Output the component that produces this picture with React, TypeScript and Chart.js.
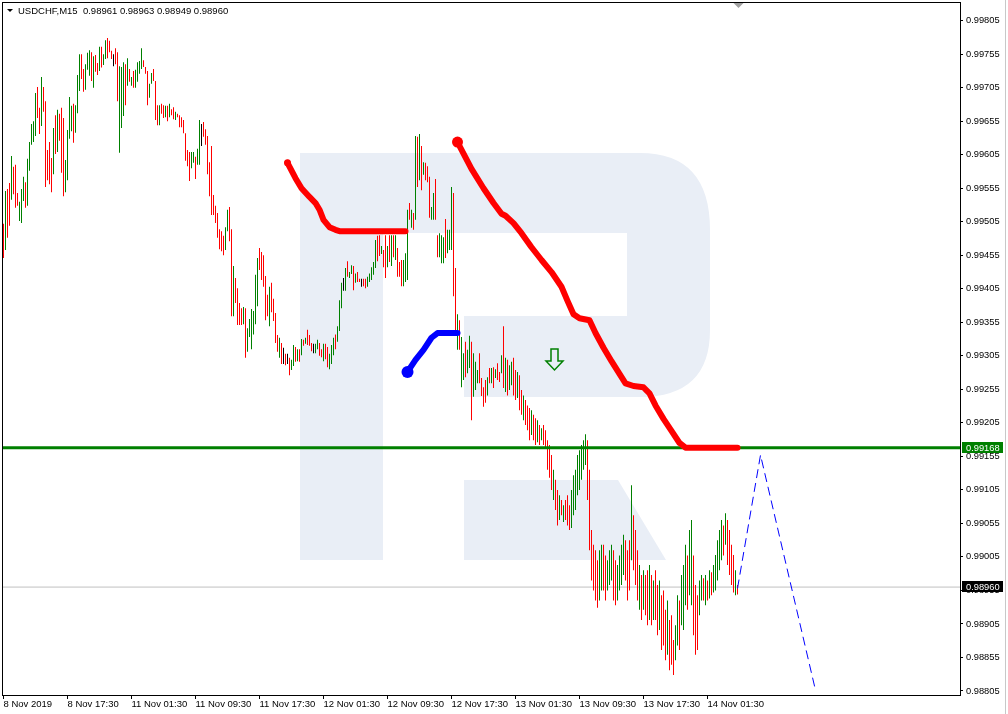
import React, { useEffect, useRef } from "react";
import { Chart, registerables } from "chart.js";

Chart.register(...registerables);

// ---------- data ----------
const SYMBOL = "USDCHF";
const TIMEFRAME = "M15";
const LAST_OHLC = [0.98961, 0.98963, 0.98949, 0.9896];

const TIME_TICK_INDEX = [0, 32, 64, 96, 128, 160, 192, 224, 256, 288, 320, 352];
const TIME_TICK_LABELS = [
  "8 Nov 2019", "8 Nov 17:30", "11 Nov 01:30", "11 Nov 09:30", "11 Nov 17:30", "12 Nov 01:30",
  "12 Nov 09:30", "12 Nov 17:30", "13 Nov 01:30", "13 Nov 09:30", "13 Nov 17:30", "14 Nov 01:30",
];

const PRICE_TICKS = [
  0.98805, 0.98855, 0.98905, 0.98955, 0.99005, 0.99055, 0.99105, 0.99155, 0.99205, 0.99255, 0.99305,
  0.99355, 0.99405, 0.99455, 0.99505, 0.99555, 0.99605, 0.99655, 0.99705, 0.99755, 0.99805,
];
const PRICE_MIN = 0.98799;
const PRICE_MAX = 0.998314;

// bar highs / lows in points (1 point = 0.00001)
const HIGH_PTS = [
  99502, 99551, 99554, 99563, 99603, 99587, 99590, 99548, 99535, 99554,
  99572, 99564, 99599, 99624, 99651, 99655, 99697, 99706, 99675, 99721,
  99706, 99685, 99612, 99624, 99600, 99645, 99664, 99672, 99666, 99675,
  99660, 99597, 99642, 99691, 99678, 99681, 99679, 99724, 99755, 99755,
  99733, 99740, 99757, 99761, 99758, 99752, 99754, 99742, 99766, 99766,
  99755, 99776, 99779, 99775, 99760, 99755, 99764, 99758, 99737, 99736,
  99743, 99740, 99749, 99733, 99721, 99730, 99732, 99743, 99745, 99764,
  99746, 99736, 99730, 99711, 99727, 99733, 99715, 99679, 99679, 99681,
  99679, 99678, 99678, 99681, 99673, 99676, 99669, 99666, 99664, 99661,
  99657, 99637, 99612, 99609, 99609, 99609, 99602, 99614, 99657, 99651,
  99654, 99643, 99633, 99594, 99618, 99545, 99529, 99518, 99494, 99491,
  99484, 99497, 99523, 99527, 99494, 99439, 99421, 99406, 99384, 99376,
  99378, 99376, 99346, 99360, 99375, 99372, 99426, 99451, 99466, 99460,
  99455, 99424, 99396, 99408, 99414, 99390, 99369, 99336, 99332, 99324,
  99317, 99308, 99308, 99302, 99299, 99321, 99318, 99315, 99315, 99330,
  99329, 99332, 99344, 99336, 99324, 99323, 99323, 99329, 99324, 99315,
  99323, 99323, 99318, 99308, 99321, 99332, 99337, 99349, 99388, 99414,
  99421, 99436, 99446, 99430, 99440, 99439, 99428, 99430, 99420, 99420,
  99420, 99420, 99423, 99428, 99437, 99445, 99478, 99484, 99485, 99469,
  99463, 99485, 99469, 99485, 99485, 99485, 99485, 99466, 99445, 99448,
  99448, 99458, 99523, 99533, 99523, 99518, 99633, 99632, 99636, 99618,
  99594, 99593, 99588, 99572, 99527, 99548, 99569, 99485, 99488, 99485,
  99482, 99509, 99493, 99493, 99557, 99548, 99436, 99367, 99358, 99333,
  99309, 99326, 99314, 99335, 99326, 99309, 99296, 99284, 99309, 99272,
  99258, 99269, 99273, 99287, 99287, 99288, 99285, 99294, 99281, 99306,
  99349, 99302, 99299, 99291, 99296, 99302, 99284, 99281, 99276, 99254,
  99246, 99239, 99231, 99227, 99224, 99217, 99212, 99209, 99202, 99197,
  99202, 99194, 99179, 99172, 99157, 99135, 99120, 99105, 99097, 99090,
  99082, 99090, 99097, 99082, 99105, 99127, 99135, 99157, 99164, 99172,
  99179, 99188, 99179, 99135, 99045, 99023, 99015, 99000, 99015, 99023,
  99023, 99007, 99000, 99015, 99023, 99015, 99000, 98993, 99007, 99023,
  99038, 99030, 99015, 99030, 99112, 99067, 99045, 99015, 98993, 98978,
  98985, 98978, 98985, 98993, 98978, 98970, 98985, 98963, 98970, 98948,
  98955, 98926, 98940, 98911, 98918, 98881, 98903, 98948, 98940, 98978,
  98993, 99023, 99007, 99045, 99060, 99007, 98963, 98948, 98970, 98978,
  98973, 98978, 98970, 98985, 98982, 98993, 99008, 99030, 99045, 99060,
  99052, 99070, 99060, 99045, 99023, 99008, 98985, 98963,
];
const LOW_PTS = [
  99451, 99463, 99481, 99499, 99538, 99546, 99526, 99529, 99506, 99503,
  99536, 99526, 99529, 99581, 99620, 99624, 99633, 99660, 99636, 99648,
  99669, 99557, 99567, 99561, 99549, 99576, 99606, 99609, 99626, 99578,
  99543, 99549, 99567, 99629, 99640, 99623, 99638, 99667, 99700, 99718,
  99699, 99702, 99732, 99723, 99715, 99705, 99729, 99724, 99730, 99735,
  99739, 99748, 99749, 99758, 99748, 99737, 99740, 99685, 99608, 99645,
  99663, 99679, 99708, 99714, 99708, 99705, 99705, 99714, 99726, 99733,
  99736, 99726, 99679, 99690, 99711, 99715, 99657, 99649, 99649, 99666,
  99660, 99661, 99655, 99661, 99664, 99658, 99657, 99661, 99646, 99646,
  99637, 99596, 99588, 99566, 99585, 99593, 99569, 99590, 99590, 99618,
  99632, 99620, 99576, 99543, 99515, 99515, 99503, 99481, 99464, 99461,
  99455, 99463, 99491, 99476, 99364, 99364, 99384, 99351, 99351, 99351,
  99352, 99302, 99311, 99333, 99315, 99337, 99352, 99379, 99433, 99418,
  99408, 99358, 99364, 99349, 99370, 99357, 99324, 99311, 99302, 99293,
  99293, 99291, 99293, 99276, 99284, 99290, 99296, 99297, 99296, 99306,
  99320, 99323, 99321, 99320, 99312, 99309, 99309, 99315, 99305, 99303,
  99297, 99300, 99288, 99285, 99293, 99306, 99315, 99326, 99342, 99376,
  99402, 99402, 99423, 99421, 99427, 99403, 99414, 99415, 99415, 99408,
  99409, 99406, 99408, 99415, 99418, 99426, 99436, 99446, 99454, 99457,
  99437, 99421, 99437, 99445, 99439, 99452, 99448, 99423, 99423, 99409,
  99409, 99415, 99418, 99508, 99496, 99493, 99508, 99557, 99567, 99552,
  99575, 99567, 99564, 99511, 99508, 99508, 99508, 99452, 99452, 99443,
  99443, 99451, 99458, 99463, 99463, 99394, 99339, 99314, 99314, 99258,
  99269, 99273, 99279, 99287, 99209, 99244, 99254, 99264, 99264, 99245,
  99229, 99235, 99246, 99264, 99264, 99257, 99272, 99269, 99266, 99279,
  99257, 99251, 99246, 99254, 99261, 99246, 99239, 99242, 99224, 99217,
  99209, 99202, 99194, 99179, 99187, 99179, 99172, 99176, 99172, 99179,
  99172, 99167, 99135, 99123, 99105, 99090, 99075, 99052, 99060, 99067,
  99057, 99060, 99052, 99045, 99048, 99067, 99075, 99097, 99105, 99120,
  99135, 99142, 99090, 99015, 98970, 98955, 98940, 98929, 98940, 98955,
  98955, 98940, 98955, 98963, 98970, 98940, 98933, 98940, 98955, 98963,
  98978, 98970, 98940, 98955, 99000, 98985, 98963, 98940, 98926, 98911,
  98926, 98918, 98903, 98911, 98903, 98911, 98911, 98888, 98896, 98866,
  98873, 98851, 98859, 98836, 98844, 98829, 98851, 98873, 98866, 98903,
  98896, 98933, 98926, 98948, 98933, 98888, 98859, 98866, 98918, 98940,
  98940, 98933, 98940, 98943, 98948, 98952, 98955, 98970, 98985, 99000,
  99007, 99023, 98993, 98978, 98963, 98952, 98948, 98949,
];
// u = bullish bar, d = bearish bar, n = unchanged
const BAR_DIR = [
  "dudduddduu", "uduuuuuddu", "dddddududd", "duuuuduuud", "duuududdud",
  "uudddndduu", "udududuuuu", "ddduudddud", "dududduddd", "dddduuduun",
  "dddddddddd", "duuddudddd", "uduuuuuudd", "ddduddddud", "ndnduududu",
  "dudddnuudd", "udduuuduuu", "nuduududdn", "dduuuuuddu", "ddudududdd",
  "uuudududud", "uddduudduu", "uduuuddudu", "uduuduuudd", "ddudududdu",
  "duduuddudd", "uddduddudu", "ddddduddud", "uddduuuuuu", "uudddddduu",
  "dduuudduuu", "udddudddud", "uddududdud", "dduddduudu", "uuduuddduu",
  "dududuuuuu", "duddddud",
].join("");

// indicator lines: [bar index, points]
const RED_TREND_1 = [
  [142, 99593], [146, 99570], [149, 99555], [153, 99542], [156, 99533], [158, 99523],
  [160, 99508], [163, 99497], [166, 99493], [168, 99491], [201, 99491],
];
const BLUE_TREND = [
  [202, 99281], [206, 99299], [210, 99314], [214, 99332], [217, 99339], [227, 99339],
];
const RED_TREND_2 = [
  [227, 99624], [234, 99584], [240, 99555], [245, 99533], [249, 99517], [251, 99514],
  [255, 99503], [259, 99488], [264, 99467], [269, 99448], [274, 99430], [279, 99408],
  [282, 99387], [285, 99367], [288, 99361], [293, 99358], [296, 99339], [300, 99317],
  [304, 99297], [308, 99278], [311, 99264], [315, 99260], [320, 99258], [323, 99249],
  [326, 99231], [330, 99211], [334, 99193], [338, 99175], [341, 99168], [367, 99168],
];
const FORECAST = [
  [367, 0.98958], [378.5, 0.99157], [406, 0.98806],
];
const LEVEL_PRICE = 0.99168;
const ARROW_INDEX = 275;
const ARROW_PRICE = 0.993;

const X_MIN = -0.75;
const X_MAX = 478.25;

const FONT = "'Liberation Sans', Arial, sans-serif";

export default function App() {
  const ref = useRef<HTMLCanvasElement | null>(null);

  useEffect(() => {
    const canvas = ref.current;
    if (!canvas) return;

    const bars = HIGH_PTS.map((h, i) => ({ x: i, y: [LOW_PTS[i] / 1e5, h / 1e5] }));
    const barColors = HIGH_PTS.map((_, i) => {
      const c = BAR_DIR[i] || "u";
      return c === "u" ? "#008000" : c === "d" ? "#ff0000" : "#000000";
    });
    const toPts = (arr: number[][]) => arr.map(([x, p]) => ({ x, y: p / 1e5 }));
    const lastClose = LAST_OHLC[3];

    const decor = {
      id: "decor",
      beforeDatasetsDraw(chart: any) {
        const ctx = chart.ctx;
        ctx.save();
        ctx.fillStyle = "#e9eef6";
        // watermark "R"
        ctx.fillRect(300, 153, 83, 407);
        ctx.beginPath();
        ctx.moveTo(383, 153);
        ctx.lineTo(640, 153);
        ctx.quadraticCurveTo(710, 153, 710, 230);
        ctx.lineTo(710, 330);
        ctx.quadraticCurveTo(710, 397, 640, 397);
        ctx.lineTo(464, 397);
        ctx.lineTo(464, 316);
        ctx.lineTo(627, 316);
        ctx.lineTo(627, 233);
        ctx.lineTo(383, 233);
        ctx.closePath();
        ctx.fill();
        ctx.beginPath();
        ctx.moveTo(464, 480);
        ctx.lineTo(618, 480);
        ctx.lineTo(666, 560);
        ctx.lineTo(464, 560);
        ctx.closePath();
        ctx.fill();
        ctx.restore();
      },
      afterDatasetsDraw(chart: any) {
        const ctx = chart.ctx;
        const xs = chart.scales.x;
        const ys = chart.scales.y;
        // arrow
        const cx = Math.round(xs.getPixelForValue(ARROW_INDEX)) + 0.5;
        const cy = Math.round(ys.getPixelForValue(ARROW_PRICE));
        ctx.save();
        ctx.strokeStyle = "#008000";
        ctx.lineWidth = 1.5;
        ctx.beginPath();
        ctx.moveTo(cx - 3.5, cy - 10);
        ctx.lineTo(cx + 3.5, cy - 10);
        ctx.lineTo(cx + 3.5, cy + 2);
        ctx.lineTo(cx + 8.5, cy + 2);
        ctx.lineTo(cx, cy + 11);
        ctx.lineTo(cx - 8.5, cy + 2);
        ctx.lineTo(cx - 3.5, cy + 2);
        ctx.closePath();
        ctx.stroke();
        ctx.restore();
      },
      afterDraw(chart: any) {
        const ctx = chart.ctx;
        const a = chart.chartArea;
        const xs = chart.scales.x;
        const ys = chart.scales.y;
        ctx.save();
        // frame
        ctx.strokeStyle = "#000";
        ctx.lineWidth = 1;
        ctx.strokeRect(a.left + 0.5, a.top - 0.5, a.right - a.left, a.bottom - a.top + 1);
        // window edge
        ctx.fillStyle = "#c8c8c8";
        ctx.fillRect(1005, 0, 1, 714);
        // shift marker
        const sx = Math.round(xs.getPixelForValue(HIGH_PTS.length - 1)) + 0.5;
        ctx.fillStyle = "#a0a0a0";
        ctx.beginPath();
        ctx.moveTo(sx - 5, a.top);
        ctx.lineTo(sx + 5, a.top);
        ctx.lineTo(sx, a.top + 5);
        ctx.closePath();
        ctx.fill();
        // title
        ctx.fillStyle = "#000";
        ctx.beginPath();
        ctx.moveTo(7, 9);
        ctx.lineTo(13, 9);
        ctx.lineTo(10, 12);
        ctx.closePath();
        ctx.fill();
        ctx.font = `9.5px ${FONT}`;
        ctx.textBaseline = "middle";
        ctx.textAlign = "left";
        ctx.fillText(
          `${SYMBOL},${TIMEFRAME}  ${LAST_OHLC.map((v) => v.toFixed(5)).join(" ")}`,
          18,
          11
        );
        // price tags
        const tag = (price: number, bg: string) => {
          const y = Math.round(ys.getPixelForValue(price));
          ctx.fillStyle = bg;
          ctx.fillRect(962, y - 6, 41, 11);
          ctx.fillStyle = "#fff";
          ctx.font = `9.3px ${FONT}`;
          ctx.fillText(price.toFixed(5), 966, y);
        };
        tag(LEVEL_PRICE, "#008000");
        tag(lastClose, "#000");
        ctx.restore();
      },
    };

    const chart = new Chart(canvas, {
      type: "bar",
      data: {
        datasets: [
          {
            type: "line",
            data: FORECAST.map(([x, y]) => ({ x, y })),
            borderColor: "#0000ff",
            borderWidth: 1,
            borderDash: [9, 5],
            pointRadius: 0,
            fill: false,
            order: 0,
          } as any,
          {
            type: "line",
            data: toPts(RED_TREND_2),
            borderColor: "#ff0000",
            backgroundColor: "#ff0000",
            borderWidth: 6,
            borderCapStyle: "round",
            borderJoinStyle: "round",
            pointRadius: (c: any) => (c.dataIndex === 0 ? 5.5 : 0),
            pointBorderWidth: 0,
            fill: false,
            order: 1,
          } as any,
          {
            type: "line",
            data: toPts(RED_TREND_1),
            borderColor: "#ff0000",
            backgroundColor: "#ff0000",
            borderWidth: 6,
            borderCapStyle: "round",
            borderJoinStyle: "round",
            pointRadius: (c: any) => (c.dataIndex === 0 ? 3.5 : 0),
            pointBorderWidth: 0,
            fill: false,
            order: 1,
          } as any,
          {
            type: "line",
            data: toPts(BLUE_TREND),
            borderColor: "#0000ff",
            backgroundColor: "#0000ff",
            borderWidth: 6,
            borderCapStyle: "round",
            borderJoinStyle: "round",
            pointRadius: (c: any) => (c.dataIndex === 0 ? 6 : 0),
            pointBorderWidth: 0,
            fill: false,
            order: 1,
          } as any,
          {
            type: "line",
            data: [{ x: X_MIN, y: LEVEL_PRICE }, { x: X_MAX, y: LEVEL_PRICE }],
            borderColor: "#008000",
            borderWidth: 3,
            pointRadius: 0,
            fill: false,
            order: 3,
          } as any,
          {
            type: "bar",
            data: bars,
            backgroundColor: barColors,
            borderWidth: 0,
            barThickness: 1,
            inflateAmount: 0,
            grouped: false,
            order: 4,
          } as any,
          {
            type: "line",
            data: [{ x: X_MIN, y: lastClose }, { x: X_MAX, y: lastClose }],
            borderColor: "#c0c0c0",
            borderWidth: 1,
            pointRadius: 0,
            fill: false,
            order: 5,
          } as any,
        ],
      },
      options: {
        animation: false,
        responsive: false,
        maintainAspectRatio: false,
        events: [],
        layout: { autoPadding: false, padding: { left: 2, top: 3, right: 0, bottom: 0 } },
        plugins: { legend: { display: false }, tooltip: { enabled: false } },
        scales: {
          x: {
            type: "linear",
            min: X_MIN,
            max: X_MAX,
            offset: false,
            border: { display: false },
            grid: {
              display: true,
              offset: false,
              drawOnChartArea: false,
              drawTicks: true,
              tickLength: 4,
              color: "#000",
            },
            afterBuildTicks: (s: any) => {
              s.ticks = TIME_TICK_INDEX.map((v) => ({ value: v }));
            },
            afterFit: (s: any) => {
              s.height = 19;
              s.paddingLeft = 0;
              s.paddingRight = 0;
              s.paddingTop = 0;
              s.paddingBottom = 0;
            },
            ticks: {
              autoSkip: false,
              maxRotation: 0,
              minRotation: 0,
              align: "start",
              padding: 0,
              color: "#000",
              font: { family: FONT, size: 9.5 },
              callback: (_v: any, i: number) => TIME_TICK_LABELS[i],
            },
          },
          y: {
            type: "linear",
            position: "right",
            min: PRICE_MIN,
            max: PRICE_MAX,
            border: { display: false },
            grid: {
              display: true,
              drawOnChartArea: false,
              drawTicks: true,
              tickLength: 3,
              color: "#000",
            },
            afterBuildTicks: (s: any) => {
              s.ticks = PRICE_TICKS.map((v) => ({ value: v }));
            },
            afterFit: (s: any) => {
              s.width = 48;
              s.paddingLeft = 0;
              s.paddingRight = 0;
              s.paddingTop = 0;
              s.paddingBottom = 0;
            },
            ticks: {
              autoSkip: false,
              padding: 3,
              color: "#000",
              font: { family: FONT, size: 9.3 },
              callback: (v: any) => Number(v).toFixed(5),
            },
          },
        },
      } as any,
      plugins: [decor],
    });

    return () => chart.destroy();
  }, []);

  return (
    <div style={{ position: "fixed", left: 0, top: 0, width: 1008, height: 714, background: "#fff" }}>
      <canvas ref={ref} width={1008} height={714} style={{ display: "block" }} />
    </div>
  );
}
